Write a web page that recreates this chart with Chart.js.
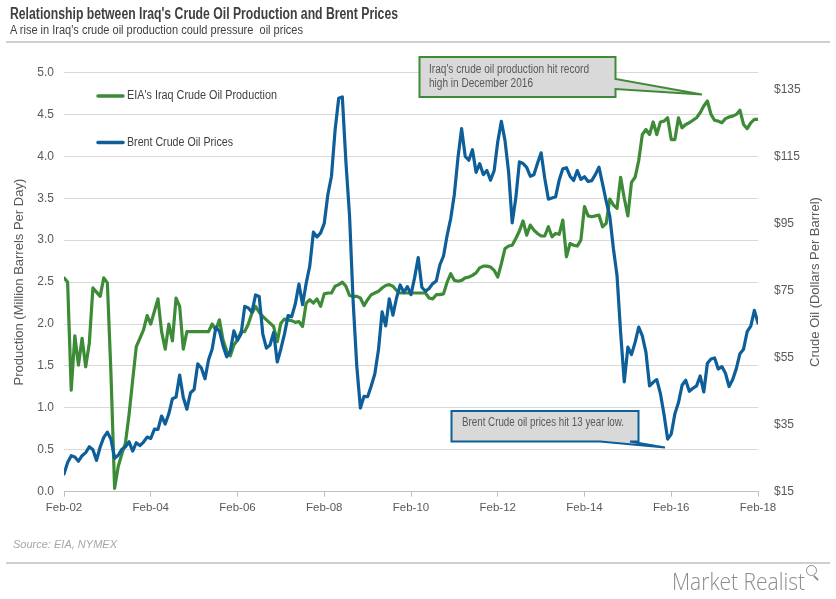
<!DOCTYPE html>
<html><head><meta charset="utf-8">
<script src="https://cdn.jsdelivr.net/npm/chart.js@4.4.1/dist/chart.umd.min.js"></script>
<style>
html,body{margin:0;padding:0;background:#fff;width:836px;height:599px;overflow:hidden;font-family:'Liberation Sans',Arial,sans-serif;}
#wrap{position:relative;width:836px;height:599px;}
#c{position:absolute;left:0;top:0;}
.t{position:absolute;white-space:nowrap;transform-origin:0 0;display:inline-block;}
#title{left:10px;top:5px;font-weight:bold;font-size:16px;color:#404040;}
#sub{left:10px;top:23px;font-size:12.5px;color:#404040;}
.hr{position:absolute;left:6px;width:824px;height:2px;background:#cfcfcf;}
#src{left:13px;top:538px;font-style:italic;font-size:11px;color:#a6a6a6;}
#logo{left:672px;top:565px;font-size:23px;color:#8c8c8c;font-family:'Open Sans','Liberation Sans',sans-serif;font-weight:300;}
#mag{position:absolute;left:806px;top:565px;width:9px;height:9px;border:1.5px solid #8c8c8c;border-radius:50%;}
#magh{position:absolute;left:815px;top:575px;width:2px;height:6px;background:#8c8c8c;transform:rotate(-45deg);}
</style></head>
<body><div id="wrap">
<canvas id="c" width="836" height="599"></canvas>
<div class="t" id="title" data-w="388">Relationship between Iraq's Crude Oil Production and Brent Prices</div>
<div class="t" id="sub" data-w="293">A rise in Iraq's crude oil production could pressure&nbsp; oil prices</div>
<div class="hr" style="top:41px"></div>
<div class="t" id="src" data-w="104">Source: EIA, NYMEX</div>
<div class="hr" style="top:562px"></div>
<div class="t" id="logo" data-w="133">Market Realist</div>
<div id="mag"></div><div id="magh"></div>
</div>
<script>
// ---- data ----
const tickLabels = ['Feb-02','Feb-04','Feb-06','Feb-08','Feb-10','Feb-12','Feb-14','Feb-16','Feb-18'];
const rightTicks = [15,35,55,75,95,115,135];
const seriesNames = ["EIA's Iraq Crude Oil Production", 'Brent Crude Oil Prices'];
// monthly, Feb 2002 .. Feb 2018 (million barrels per day)
const iraqProduction = [
  2.55,2.50,1.21,1.86,1.51,1.83,1.49,1.77,2.43,2.38,2.33,
  2.55,2.49,1.40,0.04,0.30,0.45,0.58,0.92,1.33,1.73,1.83,1.93,
  2.10,2.00,2.15,2.30,1.91,1.70,2.00,1.80,2.31,2.21,1.70,1.91,
  1.91,1.91,1.91,1.91,1.91,1.91,2.00,1.93,2.05,1.81,1.68,1.62,
  1.75,1.81,1.91,1.91,2.00,2.13,2.21,2.14,2.09,2.05,2.01,1.97,
  1.79,2.01,2.06,2.05,2.04,2.02,2.03,1.97,2.25,2.29,2.25,2.30,
  2.21,2.36,2.37,2.37,2.45,2.47,2.50,2.45,2.34,2.33,2.33,2.31,
  2.22,2.29,2.35,2.37,2.39,2.43,2.46,2.47,2.45,2.40,2.37,2.37,
  2.37,2.37,2.37,2.37,2.37,2.37,2.31,2.30,2.35,2.35,2.36,2.50,
  2.60,2.52,2.51,2.52,2.55,2.56,2.58,2.61,2.67,2.69,2.69,2.68,
  2.64,2.56,2.72,2.90,2.93,2.94,3.02,3.11,3.23,3.06,3.18,3.12,
  3.08,3.05,3.05,3.16,3.04,3.08,3.07,3.24,2.80,2.96,2.94,2.93,
  3.00,3.40,3.29,3.28,3.29,3.30,3.16,3.20,3.49,3.42,3.38,3.75,
  3.50,3.29,3.69,3.75,3.95,4.26,4.32,4.26,4.41,4.26,4.41,4.42,
  4.46,4.20,4.20,4.46,4.34,4.38,4.40,4.43,4.46,4.52,4.60,4.66,
  4.50,4.43,4.42,4.40,4.45,4.47,4.48,4.50,4.55,4.38,4.33,4.40,
  4.44,4.44
];
// monthly, Feb 2002 .. Feb 2018 (dollars per barrel)
const brentPrices = [
  20.28,23.70,25.73,25.35,24.08,25.74,26.65,28.40,27.54,24.34,28.33,
  31.18,32.77,30.61,25.00,25.86,27.65,28.35,29.89,27.11,29.61,28.75,29.81,
  31.28,30.86,33.63,33.59,37.57,35.18,38.22,42.74,43.20,49.78,43.11,39.60,
  44.51,45.48,53.10,51.88,48.65,54.35,57.52,63.98,62.91,58.54,55.24,56.86,
  62.99,60.21,62.06,70.26,69.78,68.56,73.67,73.23,61.96,57.81,58.76,62.47,
  53.68,57.56,62.05,67.49,67.21,71.05,76.93,70.76,77.17,82.34,92.41,90.93,
  92.18,94.99,103.64,109.07,122.80,132.32,132.72,113.24,97.23,71.58,52.45,39.95,
  43.44,43.32,46.54,50.18,57.30,68.61,64.44,72.51,67.65,72.77,76.66,74.46,
  76.17,73.75,78.83,84.82,75.95,74.76,75.58,77.04,77.84,82.67,85.28,91.45,
  96.52,103.72,114.64,123.26,114.99,113.83,116.97,110.22,112.83,109.55,110.77,107.87,
  110.69,119.33,125.45,119.75,110.34,95.16,102.62,113.36,112.86,111.71,109.06,109.49,
  112.96,116.05,108.47,102.25,102.56,102.92,107.93,111.28,111.60,109.08,107.79,110.76,
  108.12,108.90,107.48,107.76,109.54,111.80,106.77,101.61,97.09,87.43,79.44,62.34,
  47.76,58.10,55.89,59.52,64.08,61.48,56.56,46.52,47.62,48.43,44.27,38.01,
  30.70,32.18,38.21,41.58,46.74,48.25,44.95,45.84,46.57,49.52,44.73,53.31,
  54.58,54.87,51.59,52.31,50.33,46.37,48.48,51.70,56.15,57.51,62.71,64.37,
  69.08,65.32
];
const annotations = [
  {lines:["Iraq's crude oil production hit record","high in December 2016"]},
  {lines:["Brent Crude oil prices hit 13 year low."]}
];

// ---- html text fitting ----
document.querySelectorAll('.t[data-w]').forEach(el=>{
  const w = el.getBoundingClientRect().width;
  el.style.transform = 'scaleX(' + (parseFloat(el.dataset.w)/w) + ')';
});

const GREEN = '#3d8b37', BLUE = '#0d5e99', TXT = '#595959';

function fitText(ctx, text, x, y, w, font, color){
  ctx.save();
  ctx.font = font; ctx.fillStyle = color; ctx.textBaseline = 'middle'; ctx.textAlign = 'left';
  const m = ctx.measureText(text).width;
  ctx.translate(x, y); ctx.scale(w/m, 1); ctx.fillText(text, 0, 0);
  ctx.restore();
}

const decor = {
  id:'decor',
  afterDatasetsDraw(chart){
    const ctx = chart.ctx;
    // legend
    const lg = [[GREEN, 96, 150],[BLUE, 142.5, 106]];
    lg.forEach((l,k)=>{
      ctx.save(); ctx.strokeStyle = l[0]; ctx.lineWidth = 3.5; ctx.lineCap='round';
      ctx.beginPath(); ctx.moveTo(98, l[1]); ctx.lineTo(123, l[1]); ctx.stroke(); ctx.restore();
      fitText(ctx, seriesNames[k], 127, l[1], l[2], "12.5px 'Liberation Sans'", '#404040');
    });
    // green annotation
    ctx.save();
    ctx.fillStyle = '#d9d9d9'; ctx.strokeStyle = GREEN; ctx.lineWidth = 2; ctx.lineJoin='miter';
    ctx.beginPath();
    ctx.moveTo(419.5,57); ctx.lineTo(615.5,57); ctx.lineTo(615.5,79); ctx.lineTo(702,94.5);
    ctx.lineTo(615.5,89); ctx.lineTo(615.5,97); ctx.lineTo(419.5,97); ctx.closePath();
    ctx.fill(); ctx.stroke(); ctx.restore();
    fitText(ctx, annotations[0].lines[0], 429, 70, 160, "12px 'Liberation Sans'", TXT);
    fitText(ctx, annotations[0].lines[1], 429, 84, 104, "12px 'Liberation Sans'", TXT);
    // blue annotation
    ctx.save();
    ctx.fillStyle = '#d9d9d9'; ctx.strokeStyle = BLUE; ctx.lineWidth = 2;
    ctx.beginPath();
    ctx.moveTo(451.5,411); ctx.lineTo(638.5,411); ctx.lineTo(638.5,441.5); ctx.lineTo(630,441.5);
    ctx.lineTo(665,447.5); ctx.lineTo(600,441.5); ctx.lineTo(451.5,441.5); ctx.closePath();
    ctx.fill(); ctx.stroke(); ctx.restore();
    fitText(ctx, annotations[1].lines[0], 462, 423, 162, "12px 'Liberation Sans'", TXT);
    // right axis title (reads bottom to top)
    ctx.save();
    ctx.translate(815, 282); ctx.rotate(-Math.PI/2);
    ctx.font = "13px 'Liberation Sans'"; ctx.fillStyle = TXT; ctx.textAlign='center'; ctx.textBaseline='middle';
    ctx.fillText('Crude Oil (Dollars Per Barrel)', 0, 0);
    ctx.restore();
  }
};

Chart.defaults.font.family = "'Liberation Sans', Arial, sans-serif";
Chart.defaults.color = TXT;

new Chart(document.getElementById('c'), {
  type:'line',
  data:{
    datasets:[
      {label:seriesNames[1], data:brentPrices.map((v,i)=>({x:i,y:v})), yAxisID:'y1', borderColor:BLUE, borderWidth:3.2, pointRadius:0, tension:0, order:0, borderJoinStyle:'round', borderCapStyle:'round'},
      {label:seriesNames[0], data:iraqProduction.map((v,i)=>({x:i,y:v})), yAxisID:'y', borderColor:GREEN, borderWidth:3.2, pointRadius:0, tension:0, order:1, borderJoinStyle:'round', borderCapStyle:'round'}
    ]
  },
  options:{
    responsive:false, animation:false, events:[],
    layout:{padding:{left:0,right:0,top:72.5,bottom:59.3}},
    plugins:{legend:{display:false}, tooltip:{enabled:false}},
    scales:{
      x:{
        type:'linear', min:0, max:192,
        afterBuildTicks(s){ s.ticks = tickLabels.map((_,k)=>({value:k*24})); },
        afterFit(s){ s.height = 48; },
        ticks:{callback:(v)=>tickLabels[Math.round(v/24)], maxRotation:0, autoSkip:false, padding:4, font:{size:11.5}, color:TXT},
        grid:{drawOnChartArea:false, drawTicks:true, tickLength:5, color:'#bfbfbf'},
        border:{display:true, color:'#bfbfbf', width:1}
      },
      y:{
        position:'left', min:0, max:5,
        afterFit(s){ s.width = 64; },
        ticks:{stepSize:0.5, callback:(v)=>v.toFixed(1), padding:10, font:{size:12}, color:TXT},
        grid:{color:'#d9d9d9', drawTicks:false, lineWidth:1},
        border:{display:false},
        title:{display:true, text:'Production (Million Barrels Per Day)', font:{size:13}, color:TXT, padding:{top:12,bottom:0}}
      },
      y1:{
        position:'right', min:15, max:140,
        afterFit(s){ s.width = 78; },
        afterBuildTicks(s){ s.ticks = rightTicks.map(v=>({value:v})); },
        ticks:{callback:(v)=>'$'+v, padding:16, font:{size:12}, color:TXT},
        grid:{drawOnChartArea:false, drawTicks:false},
        border:{display:false}
      }
    }
  },
  plugins:[decor]
});
</script>
</body></html>
